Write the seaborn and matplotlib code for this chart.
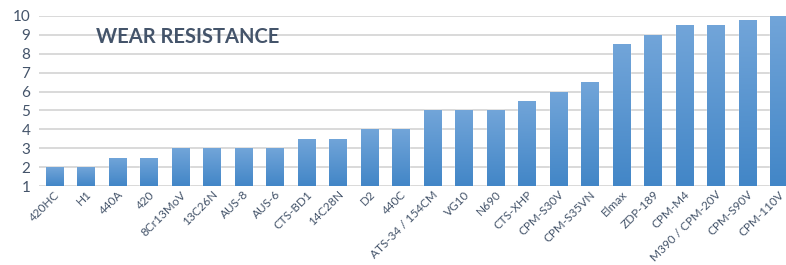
import numpy as np
import pandas as pd
import matplotlib
matplotlib.use('Agg')
import matplotlib.pyplot as plt
import seaborn as sns

steels = ['420HC', 'H1', '440A', '420', '8Cr13MoV', '13C26N', 'AUS-8', 'AUS-6',
          'CTS-BD1', '14C28N', 'D2', '440C', 'ATS-34 / 154CM', 'VG10', 'N690',
          'CTS-XHP', 'CPM-S30V', 'CPM-S35VN', 'Elmax', 'ZDP-189', 'CPM-M4',
          'M390 / CPM-20V', 'CPM-S90V', 'CPM-110V']
wear = [2, 2, 2.5, 2.5, 3, 3, 3, 3, 3.5, 3.5, 4, 4, 5, 5, 5, 5.5, 6, 6.5,
        8.5, 9, 9.5, 9.5, 9.8, 10]

df = pd.DataFrame({'steel': steels, 'wear': wear})

sns.set_style('white')
plt.rcParams['font.family'] = ['Lato', 'DejaVu Sans']
text_col = '#44546a'

fig = plt.figure(figsize=(7.86, 2.65), dpi=100)
ax = fig.add_axes([0.049, 0.298, 0.962, 0.642])

sns.barplot(data=df, x='steel', y='wear', color='#5b9bd5', width=0.54,
            saturation=1, ax=ax, zorder=3)
ax.set_ylim(1, 10)
ax.set_yticks(range(1, 11))
ax.grid(axis='y', color='#d9d9d9', linewidth=1.4, zorder=0)
ax.set_axisbelow(True)
for s in ax.spines.values():
    s.set_visible(False)

# vertical gradient on each bar
grad = np.linspace(0, 1, 256).reshape(-1, 1)
cmap = matplotlib.colors.LinearSegmentedColormap.from_list('g', ['#4286c7', '#72a5d9'])
for p in ax.patches:
    x0, y0 = p.get_x(), p.get_y()
    w, h = p.get_width(), p.get_height()
    im = ax.imshow(grad, cmap=cmap, aspect='auto', origin='lower',
                   extent=[x0, x0 + w, ax.get_ylim()[0], y0 + h], zorder=4)
    im.set_clip_path(p)
    p.set_facecolor('none')
ax.set_xlim(-0.5, len(steels) - 0.5)
ax.set_ylim(1, 10)

ax.set_xlabel('')
ax.set_ylabel('')
ax.tick_params(axis='y', labelsize=11, colors=text_col, length=0, pad=6)
ax.tick_params(axis='x', labelsize=8.5, colors=text_col, length=0, pad=2)
plt.setp(ax.get_xticklabels(), rotation=45, ha='right', rotation_mode='anchor')

fig.text(0.122, 0.86, 'WEAR RESISTANCE', fontsize=14.5, fontweight='bold',
         color=text_col, ha='left', va='center')

fig.savefig('out.png', dpi=100)
